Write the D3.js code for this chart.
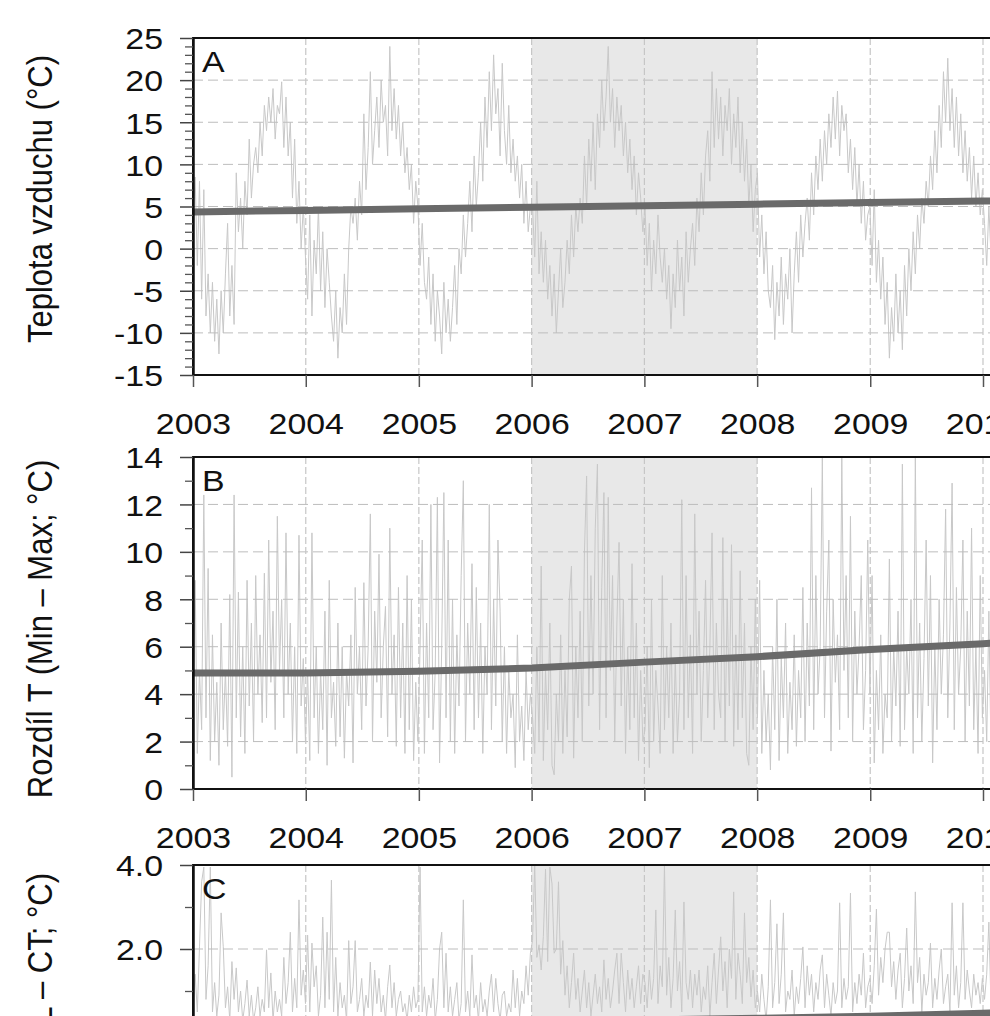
<!DOCTYPE html>
<html><head><meta charset="utf-8">
<script src="https://cdn.jsdelivr.net/npm/d3@7"></script>
<style>html,body{margin:0;padding:0;background:#fff;} svg{display:block;}</style>
</head><body>
<svg id="chart" width="990" height="1016"></svg>
<script>
// ---------------- DATA ----------------
const yearTicks = [2003, 2004, 2005, 2006, 2007, 2008, 2009, 2010, 2011];
const shadedPeriod = ["2006-01-01", "2008-01-01"];
const panelLetters = ["A", "B", "C"];
const panelTitles = ["Teplota vzduchu (°C)", "Rozdíl T (Min – Max; °C)", "Rozdíl T (L – CT; °C)"];
const seriesStart = "2003-01-01";   // weekly samples from this date

// Panel A: air temperature (°C), weekly samples
const airTemp = [
  4, 8.5, -2, 8, -6, 7, -8, -3, -10, -4, -11, -6, -12.5, -5, -10, -3, 3, -8, -2, -9, 9, 2, 6, 0, 8, 4, 13, 6, 10, 12, 9, 15, 11, 17, 14, 18, 15, 19, 13, 17, 16, 19.8, 12, 18, 11, 15, 6, 13, 3, 8, 0, 5,
  -1, -6, 4, -8, 1, -3, 5, -5, 2, -7, 0, -4, -8, -11, -5, -13, -7, -10, -3, -9, 0, 5, 3, 6, 1, 8, 4, 16, 7, 12, 21, 10, 14, 18, 12, 20, 15, 17, 11, 24, 14, 19, 13, 17, 11, 15, 9, 12, 7, 10, 3, 8,
  5, -2, 3, -4, -6, -1, -9, -3, -11, -5, -8, -12.5, -4, -10, -6, -11, -7, -2, -9, 0, -3, 4, -1, 3, 8, 2, 11, 5, 9, 15, 8, 18, 12, 21, 14, 23, 16, 19, 11, 22, 14, 10, 17, 9, 13, 8, 11, 6, 10, 3, 8, 2, 5,
  5, -1, 8, -3, 2, -4, 1, -6, -2, -8, -3, -10, -5, 0, -7, -4, 1, -3, 4, -1, 5, 2, 6, 3, 11, 5, 13, 8, 15, 7, 16, 12, 20, 14, 18, 24, 15, 19, 12, 18, 14, 17, 11, 15, 9, 13, 7, 11, 4, 9, 6, 2,
  5, -2, 3, -5, 1, -3, 4, -1, -4, 0, -6, -2, -9.5, -3, -7, 1, -5, -1, -8, 2, -4, 0, 3, -2, 6, 2, 9, 4, 11, 14, 8, 21, 12, 19, 13, 18, 11, 17, 14, 19, 10, 16, 12, 18, 9, 15, 8, 13, 5, 10, 2, 7,
  9, -1, 4, -3, 2, -5, -7, -2, -10.8, -4, -8, -1, -9, -3, -6, 0, -10, -3, 2, -4, 4, -1, 3, 6, 1, 9, 4, 11, 7, 13, 8, 14, 10, 16, 12, 18, 13, 18.7, 11, 17, 14, 16, 9, 13, 7, 12, 5, 10, 3, 8, 1, 4,
  5, -2, 7, -4, 1, -6, -1, -9, -4, -13, -7, -11, -3, -10, -5, -12, -2, -8, 0, -5, 2, -3, 4, 0, 6, 3, 8, 5, 11, 7, 14, 9, 17, 12, 21, 15, 22.6, 14, 19, 12, 18, 11, 16, 9, 14, 8, 12, 6, 11, 5, 9, 4, 7,
  3, -2, 5, -1, 4, 0
];

// Panel B: daily temperature range (°C)
const tempRange = [
  3.2, 8.8, 1.5, 5, 2.5, 12.4, 3, 9.3, 1.2, 6.5, 2, 4.5, 1, 7, 2.5, 5, 1.8, 8.2, 0.5, 12.4, 3, 8.3, 2.2, 6, 1.5, 8.8, 3.5, 7, 2, 9, 4, 6.5, 2.8, 9.1, 3, 10.5, 4.5, 7.5, 2.5, 11.5, 5, 8, 3, 10.8, 4, 7, 2, 6, 1.5, 10.7, 3.5, 5.5,
  2, 5, 1.2, 10.8, 3, 6, 1.5, 5, 2.5, 7.5, 1, 8.8, 3, 4.5, 1.8, 7, 2.2, 6, 1.3, 5, 3.5, 6.5, 1.1, 8.5, 4, 6, 2.5, 8.7, 3.5, 6, 11.6, 2, 7.5, 4.5, 9.9, 3, 6, 7.7, 2.2, 11, 4, 6.5, 1.8, 8.5, 3, 7, 1.5, 9, 2.5, 8, 1.2, 4.5,
  2, 6, 10.5, 1.5, 7, 3, 12, 2.5, 5, 12.3, 1.1, 6, 12.5, 3, 10.5, 2, 8, 1.5, 6.5, 3.5, 9, 13, 2, 7, 4, 9.5, 2.5, 8.5, 3, 7, 1.5, 6, 4, 12, 2.5, 8, 3.5, 10.5, 7.5, 2, 6, 1.5, 5, 3, 4, 0.9, 6.5, 2, 3.5, 1.2, 5, 2.5, 4,
  3, 1.5, 6, 2, 9.4, 1.2, 5, 2.5, 7, 1, 0.6, 4, 2, 6.5, 1.5, 5, 2.2, 8, 9.4, 1.3, 6, 3, 7.5, 2, 10, 13.2, 3.5, 9, 4, 11, 13.7, 2.5, 8.5, 12.5, 3, 12.3, 5, 9, 2, 7, 10.4, 3.5, 8, 1.5, 6, 2.5, 9.5, 3, 7, 1.2, 5, 2,
  2.5, 6, 0.9, 8, 2, 5, 3.5, 1.5, 9, 2.5, 6, 3, 7, 1.5, 5.5, 2, 4, 12.2, 2.5, 9, 3, 6.5, 1.5, 11.6, 4, 7.5, 2, 5, 8.8, 3, 6, 10.8, 2.5, 7, 4, 3, 10.6, 2, 8, 3.5, 10.3, 1.8, 6.5, 2.5, 9.2, 3, 7, 1.5, 1, 6, 2.5, 8,
  3, 8.8, 1.5, 5, 2, 4, 0.8, 6, 2.5, 8, 1.2, 5.5, 3, 7, 1.5, 4.5, 2.5, 6.5, 1.8, 5, 3, 8.5, 2, 7, 3.5, 12.7, 2.5, 9, 4, 6, 14, 3, 7.5, 10.5, 1.6, 8, 4.5, 6.5, 2.5, 14, 5, 9, 3, 11.5, 2, 7.5, 4, 6, 9, 2.5, 5, 10.5,
  4, 9, 1.1, 5, 2.5, 6.5, 1.5, 4, 3, 9.7, 2, 6, 3.5, 7.5, 1.8, 13.7, 2.5, 6, 4, 8, 1.5, 14, 3, 7, 2, 5.5, 10.5, 3.5, 9, 1.1, 6, 2.5, 8, 4, 6.5, 11.8, 3, 7, 12.9, 2.5, 8.5, 4, 6, 10.5, 2, 7.5, 3.5, 11, 2.5, 6, 1.5, 9, 3,
  5, 2, 7.5, 1.5, 6, 3
];

// Panel C: temperature difference (°C)
const tempDiff = [
  0.6, 1.4, 0.5, 2.05, 3.6, 3.95, 0.8, 1.6, 3.95, 0.5, 1.2, 0.4, 0.9, 2.86, 2.05, 0.6, 1.1, 0.3, 1.7, 0.8, 1.55, 0.5, 1.0, 0.3, 0.7, 1.26, 0.4, 0.9, 0.3, 0.6, 1.1, 0.4, 0.8, 0.5, 1.98, 0.6, 1.43, 0.3, 1.0, 0.5, 0.8, 0.4, 1.8, 0.7, 1.2, 2.4, 0.5, 1.3, 0.6, 3.17, 0.9, 1.5,
  0.7, 2.33, 0.5, 2.14, 1.1, 1.6, 0.4, 0.9, 2.76, 0.6, 2.4, 0.8, 3.64, 0.5, 1.8, 0.4, 1.2, 0.6, 0.9, 0.3, 2.2, 0.7, 1.1, 2.2, 0.5, 0.8, 1.3, 0.4, 0.9, 0.6, 1.69, 0.4, 1.5, 0.7, 1.3, 0.5, 0.9, 0.3, 1.1, 1.62, 0.6, 1.2, 0.4, 0.8, 1.0, 0.5, 0.7, 0.3, 0.9, 0.5, 1.1, 0.6,
  0.8, 3.95, 0.5, 1.1, 0.4, 0.9, 0.6, 1.3, 0.3, 0.8, 2.0, 2.4, 0.6, 1.9, 0.5, 1.1, 0.4, 0.8, 1.2, 0.3, 0.7, 3.17, 0.5, 1.0, 0.4, 1.86, 0.6, 0.9, 0.3, 1.2, 0.5, 0.8, 0.4, 1.0, 1.4, 0.5, 1.3, 0.7, 0.3, 0.9, 1.0, 0.4, 0.7, 0.5, 1.5, 0.6, 1.3, 0.4, 1.0, 0.7, 1.6, 0.9, 1.9,
  2.2, 4.0, 1.8, 2.1, 1.5, 2.3, 3.9, 1.7, 3.95, 3.55, 1.9, 2.0, 3.6, 1.4, 2.2, 0.9, 1.6, 0.6, 1.2, 1.9, 0.8, 1.3, 0.5, 1.0, 1.5, 0.6, 1.2, 0.4, 0.9, 1.4, 0.7, 1.1, 0.5, 1.74, 0.8, 1.3, 0.6, 1.0, 1.5, 1.9, 0.7, 1.9, 1.2, 0.5, 1.5, 0.8, 1.3, 0.6, 1.1, 1.6, 0.7, 1.4,
  1.2, 0.6, 1.5, 0.8, 1.3, 2.93, 0.7, 1.6, 1.1, 4.0, 0.9, 1.8, 0.6, 1.3, 2.93, 1.0, 1.7, 0.5, 3.12, 1.2, 0.8, 1.5, 0.6, 1.4, 0.9, 1.5, 0.5, 1.1, 0.8, 1.6, 0.4, 1.2, 1.9, 0.7, 1.5, 2.29, 1.0, 1.7, 0.6, 2.0, 1.3, 3.36, 0.8, 1.9, 1.4, 0.7, 2.86, 1.2, 1.8, 0.86, 1.5, 0.6,
  1.0, 0.5, 1.4, 0.8, 0.3, 1.1, 3.17, 0.6, 1.2, 2.6, 0.7, 1.4, 2.86, 0.5, 1.0, 0.8, 1.5, 0.4, 1.1, 0.7, 1.3, 2.05, 0.6, 1.6, 0.9, 1.4, 0.5, 1.2, 0.8, 1.5, 1.86, 0.6, 1.4, 0.9, 0.4, 1.2, 0.7, 1.0, 3.1, 0.6, 1.3, 0.8, 1.1, 3.33, 0.5, 1.2, 0.7, 1.4, 0.9, 1.9, 0.6, 1.1,
  1.3, 0.7, 1.6, 2.95, 0.9, 1.8, 1.2, 2.0, 2.4, 2.4, 1.1, 1.7, 0.8, 1.5, 1.9, 0.6, 1.3, 2.5, 1.0, 1.6, 0.7, 3.36, 1.2, 1.8, 0.5, 1.4, 0.9, 1.2, 2.14, 0.6, 1.3, 0.8, 1.5, 2.0, 0.7, 1.1, 1.4, 0.5, 3.1, 0.9, 1.6, 0.6, 1.2, 3.1, 0.8, 1.5, 1.0, 0.6, 1.4, 0.9, 1.2, 0.7, 1.3,
  0.8, 1.4, 2.64, 0.6, 1.2, 0.9
];

// Trend lines, value at the start of each year
const trendYears = [2003, 2004, 2005, 2006, 2007, 2008, 2009, 2010, 2011];
const airTrend   = [4.36, 4.54, 4.73, 4.91, 5.10, 5.28, 5.46, 5.65, 5.83];
const rangeTrend = [4.89, 4.89, 4.97, 5.10, 5.35, 5.58, 5.88, 6.13, 6.35];
const diffTrend  = [0.22, 0.24, 0.26, 0.28, 0.31, 0.35, 0.40, 0.47, 0.55];

// Y axis domains and tick steps
const yDomainA = [-15, 25], yDomainB = [0, 14], yDomainC = [-4, 4];
const majorStepA = 5, majorStepB = 2, majorStepC = 2;

// ---------------- DRAW ----------------
const SX = 1.13;   // horizontal stretch of the original picture
const FONT = "'Liberation Sans', Arial, Helvetica, sans-serif";
const loc = d3.formatLocale({decimal: ".", thousands: ",", grouping: [3], currency: ["", ""], minus: "-"});
const svg = d3.select("#chart");
svg.append("rect").attr("width", 990).attr("height", 1016).attr("fill", "#fff");

const parse = d3.utcParse("%Y-%m-%d");
const start = parse(seriesStart);
const weekDate = i => d3.utcDay.offset(start, 7 * i);
const yearDate = y => new Date(Date.UTC(y, 0, 1));

const x = d3.scaleUtc().domain([yearDate(2003), yearDate(2010)]).range([193, 983]);
const x0 = x(yearDate(2003));
const xEnd = x(yearDate(2011));

const panels = [
  {letter: panelLetters[0], title: panelTitles[0], series: airTemp, trend: airTrend,
   top: 38, bottom: 375, domain: yDomainA, major: majorStepA, fmt: loc.format("d"),
   titleY: 199, titleAnchor: "middle"},
  {letter: panelLetters[1], title: panelTitles[1], series: tempRange, trend: rangeTrend,
   top: 457, bottom: 789, domain: yDomainB, major: majorStepB, fmt: loc.format("d"),
   titleY: 629, titleAnchor: "middle"},
  {letter: panelLetters[2], title: panelTitles[2], series: tempDiff, trend: diffTrend,
   top: 865, bottom: 1201, domain: yDomainC, major: majorStepC, fmt: loc.format(".1f"),
   titleY: 873, titleAnchor: "end"}
];

const defs = svg.append("defs");

panels.forEach((p, pi) => {
  const g = svg.append("g");
  const y = d3.scaleLinear().domain(p.domain).range([p.bottom, p.top]);
  const h = p.bottom - p.top;
  const clipId = "clip" + pi;
  defs.append("clipPath").attr("id", clipId).append("rect")
    .attr("x", x0).attr("y", p.top).attr("width", xEnd - x0).attr("height", h);

  // shaded period
  const s0 = x(parse(shadedPeriod[0])), s1 = x(parse(shadedPeriod[1]));
  g.append("rect").attr("x", s0).attr("y", p.top).attr("width", s1 - s0).attr("height", h)
    .attr("fill", "#e8e8e8");

  // data series
  const line = d3.line().x((d, i) => x(weekDate(i))).y(d => y(d));
  g.append("path").datum(p.series).attr("d", line)
    .attr("fill", "none").attr("stroke", "#c8c8c8").attr("stroke-width", 1)
    .attr("clip-path", `url(#${clipId})`);

  // grid
  const majors = d3.range(p.domain[0], p.domain[1] + 1e-9, p.major);
  const minors = d3.range(p.domain[0], p.domain[1] + 1e-9, 1).filter(v => Math.abs(v / p.major - Math.round(v / p.major)) > 1e-6);
  const grid = g.append("g").attr("clip-path", `url(#${clipId})`);
  grid.selectAll("line.h").data(majors.filter(v => v > p.domain[0] && v < p.domain[1]))
    .join("line").attr("class", "h")
    .attr("x1", x0).attr("x2", xEnd).attr("y1", d => y(d)).attr("y2", d => y(d))
    .attr("stroke", "#bdbdbd").attr("stroke-width", 1).attr("stroke-dasharray", "10,5");
  grid.selectAll("line.v").data(yearTicks.slice(1, -1).map(yearDate))
    .join("line").attr("class", "v")
    .attr("x1", d => x(d)).attr("x2", d => x(d)).attr("y1", p.top).attr("y2", p.bottom)
    .attr("stroke", "#c6c6c6").attr("stroke-width", 1.2).attr("stroke-dasharray", "7,3");

  // trend
  const tline = d3.line().x((d, i) => x(yearDate(trendYears[i]))).y(d => y(d));
  g.append("path").datum(p.trend).attr("d", tline)
    .attr("fill", "none").attr("stroke", "#6a6a6a").attr("stroke-width", 7)
    .attr("clip-path", `url(#${clipId})`);

  // frame
  g.append("rect").attr("x", x0).attr("y", p.top).attr("width", xEnd - x0).attr("height", h)
    .attr("fill", "none").attr("stroke", "#111").attr("stroke-width", 2);

  // y axis (major with labels, minor without)
  const ya = g.append("g").attr("transform", `translate(${x0},0)`)
    .call(d3.axisLeft(y).tickValues(majors).tickSize(13).tickSizeOuter(0).tickFormat(p.fmt));
  ya.attr("font-size", 30).attr("font-family", FONT);
  ya.select(".domain").attr("stroke", "#111").attr("stroke-width", 2.5);
  ya.selectAll(".tick line").attr("stroke", "#444").attr("stroke-width", 1.5);
  ya.selectAll(".tick text").attr("x", -30 / SX).attr("dy", "0.36em")
    .attr("transform", `scale(${SX},1)`).attr("fill", "#111");
  const ym = g.append("g").attr("transform", `translate(${x0},0)`)
    .call(d3.axisLeft(y).tickValues(minors).tickSize(8).tickSizeOuter(0).tickFormat(""));
  ym.select(".domain").remove();
  ym.selectAll(".tick line").attr("stroke", "#555").attr("stroke-width", 1.3);

  // x axis at bottom
  const xa = g.append("g").attr("transform", `translate(0,${p.bottom})`)
    .call(d3.axisBottom(x).tickValues(yearTicks.map(yearDate)).tickSize(12).tickSizeOuter(0)
      .tickFormat(d3.utcFormat("%Y")));
  xa.attr("font-size", 30).attr("font-family", FONT);
  xa.select(".domain").remove();
  xa.selectAll(".tick line").attr("stroke", "#555").attr("stroke-width", 1.5);
  xa.selectAll(".tick text").attr("y", 59).attr("dy", 0)
    .attr("transform", `scale(${SX},1)`).attr("fill", "#111");

  // panel letter
  g.append("text").attr("transform", `translate(202,${p.top + 34}) scale(${SX},1)`)
    .attr("font-family", FONT).attr("font-size", 30).attr("fill", "#111").text(p.letter);

  // axis title
  g.append("text").attr("transform", `translate(52,${p.titleY}) scale(${SX},1) rotate(-90)`)
    .attr("text-anchor", p.titleAnchor)
    .attr("font-family", FONT).attr("font-size", 31).attr("fill", "#111").text(p.title);
});
</script>
</body></html>
